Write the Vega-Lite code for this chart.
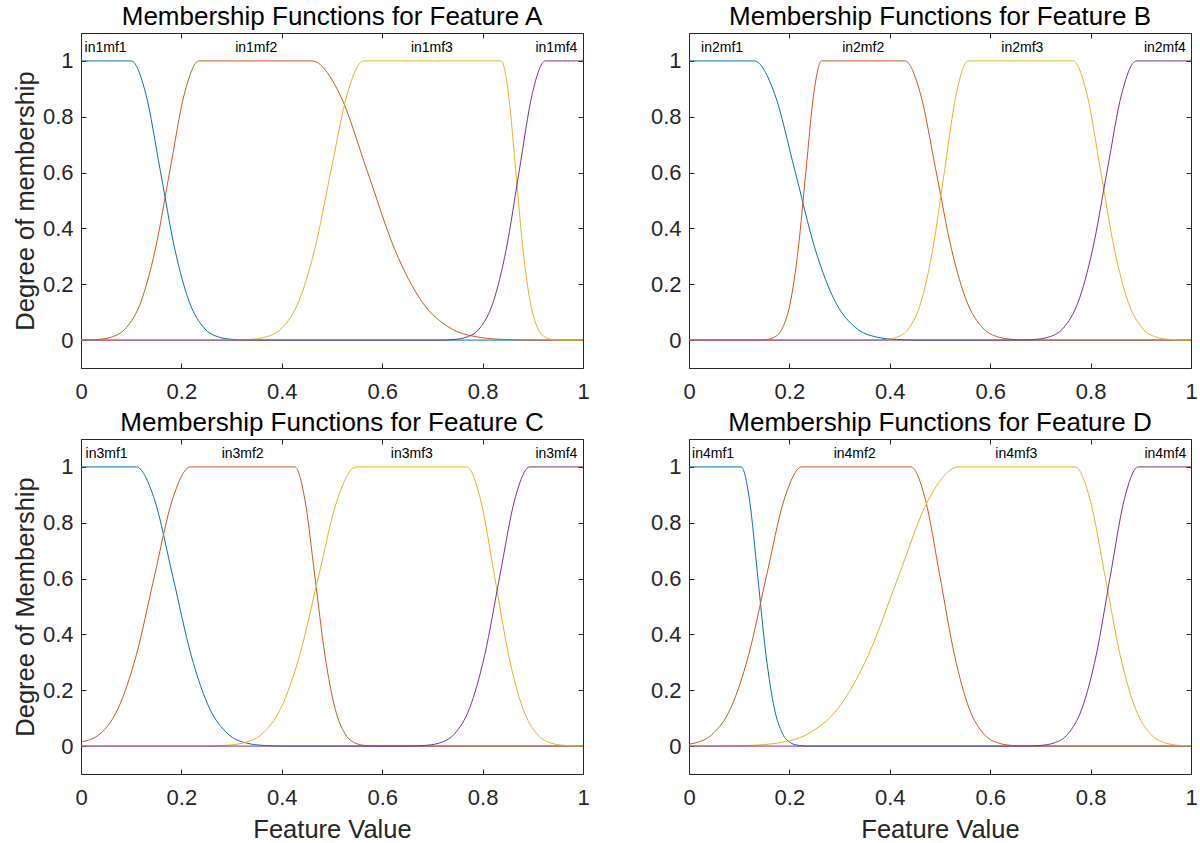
{
"$schema":"https://vega.github.io/schema/vega-lite/v6.json",
"padding":{"left":12,"top":3,"right":5,"bottom":5},
"background":"white",
"columns":2,
"spacing":{"row":71,"column":106},
"bounds":"flush",
"datasets":{
"curves":[
{"p":"A","k":1,"x":0,"y":1},{"p":"A","k":1,"x":0.10,"y":1},{"p":"A","k":1,"x":0.129,"y":0.8825},{"p":"A","k":1,"x":0.158,"y":0.6065},{"p":"A","k":1,"x":0.187,"y":0.3247},{"p":"A","k":1,"x":0.216,"y":0.1353},{"p":"A","k":1,"x":0.245,"y":0.0439},{"p":"A","k":1,"x":0.274,"y":0.0111},{"p":"A","k":1,"x":0.303,"y":0.0022},{"p":"A","k":1,"x":0.332,"y":0},{"p":"A","k":1,"x":1,"y":0},
{"p":"A","k":2,"x":0,"y":0},{"p":"A","k":2,"x":0.032,"y":0.0022},{"p":"A","k":2,"x":0.061,"y":0.0111},{"p":"A","k":2,"x":0.090,"y":0.0439},{"p":"A","k":2,"x":0.119,"y":0.1353},{"p":"A","k":2,"x":0.148,"y":0.3247},{"p":"A","k":2,"x":0.177,"y":0.6065},{"p":"A","k":2,"x":0.206,"y":0.8825},{"p":"A","k":2,"x":0.235,"y":1},{"p":"A","k":2,"x":0.46,"y":1},{"p":"A","k":2,"x":0.515,"y":0.8825},{"p":"A","k":2,"x":0.57,"y":0.6065},{"p":"A","k":2,"x":0.625,"y":0.3247},{"p":"A","k":2,"x":0.68,"y":0.1353},{"p":"A","k":2,"x":0.735,"y":0.0439},{"p":"A","k":2,"x":0.79,"y":0.0111},{"p":"A","k":2,"x":0.845,"y":0.0022},{"p":"A","k":2,"x":0.90,"y":0},{"p":"A","k":2,"x":1,"y":0},
{"p":"A","k":3,"x":0,"y":0},{"p":"A","k":3,"x":0.303,"y":0},{"p":"A","k":3,"x":0.3355,"y":0.0022},{"p":"A","k":3,"x":0.368,"y":0.0111},{"p":"A","k":3,"x":0.4005,"y":0.0439},{"p":"A","k":3,"x":0.433,"y":0.1353},{"p":"A","k":3,"x":0.4655,"y":0.3247},{"p":"A","k":3,"x":0.498,"y":0.6065},{"p":"A","k":3,"x":0.5305,"y":0.8825},{"p":"A","k":3,"x":0.563,"y":1},{"p":"A","k":3,"x":0.837,"y":1},{"p":"A","k":3,"x":0.8515,"y":0.8825},{"p":"A","k":3,"x":0.866,"y":0.6065},{"p":"A","k":3,"x":0.8805,"y":0.3247},{"p":"A","k":3,"x":0.895,"y":0.1353},{"p":"A","k":3,"x":0.9095,"y":0.0439},{"p":"A","k":3,"x":0.924,"y":0.0111},{"p":"A","k":3,"x":0.9385,"y":0.0022},{"p":"A","k":3,"x":0.953,"y":0},{"p":"A","k":3,"x":1,"y":0},
{"p":"A","k":4,"x":0,"y":0},{"p":"A","k":4,"x":0.717,"y":0},{"p":"A","k":4,"x":0.743,"y":0.0022},{"p":"A","k":4,"x":0.769,"y":0.0111},{"p":"A","k":4,"x":0.795,"y":0.0439},{"p":"A","k":4,"x":0.821,"y":0.1353},{"p":"A","k":4,"x":0.847,"y":0.3247},{"p":"A","k":4,"x":0.873,"y":0.6065},{"p":"A","k":4,"x":0.899,"y":0.8825},{"p":"A","k":4,"x":0.925,"y":1},{"p":"A","k":4,"x":1,"y":1},
{"p":"B","k":1,"x":0,"y":1},{"p":"B","k":1,"x":0.13,"y":1},{"p":"B","k":1,"x":0.1705,"y":0.8825},{"p":"B","k":1,"x":0.211,"y":0.6065},{"p":"B","k":1,"x":0.2515,"y":0.3247},{"p":"B","k":1,"x":0.292,"y":0.1353},{"p":"B","k":1,"x":0.3325,"y":0.0439},{"p":"B","k":1,"x":0.373,"y":0.0111},{"p":"B","k":1,"x":0.4135,"y":0.0022},{"p":"B","k":1,"x":0.454,"y":0},{"p":"B","k":1,"x":1,"y":0},
{"p":"B","k":2,"x":0,"y":0},{"p":"B","k":2,"x":0.14,"y":0},{"p":"B","k":2,"x":0.1555,"y":0.0022},{"p":"B","k":2,"x":0.171,"y":0.0111},{"p":"B","k":2,"x":0.1865,"y":0.0439},{"p":"B","k":2,"x":0.202,"y":0.1353},{"p":"B","k":2,"x":0.2175,"y":0.3247},{"p":"B","k":2,"x":0.233,"y":0.6065},{"p":"B","k":2,"x":0.2485,"y":0.8825},{"p":"B","k":2,"x":0.264,"y":1},{"p":"B","k":2,"x":0.43,"y":1},{"p":"B","k":2,"x":0.461,"y":0.8825},{"p":"B","k":2,"x":0.492,"y":0.6065},{"p":"B","k":2,"x":0.523,"y":0.3247},{"p":"B","k":2,"x":0.554,"y":0.1353},{"p":"B","k":2,"x":0.585,"y":0.0439},{"p":"B","k":2,"x":0.616,"y":0.0111},{"p":"B","k":2,"x":0.647,"y":0.0022},{"p":"B","k":2,"x":0.678,"y":0},{"p":"B","k":2,"x":1,"y":0},
{"p":"B","k":3,"x":0,"y":0},{"p":"B","k":3,"x":0.368,"y":0},{"p":"B","k":3,"x":0.3915,"y":0.0022},{"p":"B","k":3,"x":0.415,"y":0.0111},{"p":"B","k":3,"x":0.4385,"y":0.0439},{"p":"B","k":3,"x":0.462,"y":0.1353},{"p":"B","k":3,"x":0.4855,"y":0.3247},{"p":"B","k":3,"x":0.509,"y":0.6065},{"p":"B","k":3,"x":0.5325,"y":0.8825},{"p":"B","k":3,"x":0.556,"y":1},{"p":"B","k":3,"x":0.765,"y":1},{"p":"B","k":3,"x":0.7925,"y":0.8825},{"p":"B","k":3,"x":0.82,"y":0.6065},{"p":"B","k":3,"x":0.8475,"y":0.3247},{"p":"B","k":3,"x":0.875,"y":0.1353},{"p":"B","k":3,"x":0.9025,"y":0.0439},{"p":"B","k":3,"x":0.93,"y":0.0111},{"p":"B","k":3,"x":0.9575,"y":0.0022},{"p":"B","k":3,"x":0.985,"y":0},{"p":"B","k":3,"x":1,"y":0},
{"p":"B","k":4,"x":0,"y":0},{"p":"B","k":4,"x":0.659,"y":0},{"p":"B","k":4,"x":0.688,"y":0.0022},{"p":"B","k":4,"x":0.717,"y":0.0111},{"p":"B","k":4,"x":0.746,"y":0.0439},{"p":"B","k":4,"x":0.775,"y":0.1353},{"p":"B","k":4,"x":0.804,"y":0.3247},{"p":"B","k":4,"x":0.833,"y":0.6065},{"p":"B","k":4,"x":0.862,"y":0.8825},{"p":"B","k":4,"x":0.891,"y":1},{"p":"B","k":4,"x":1,"y":1},
{"p":"C","k":1,"x":0,"y":1},{"p":"C","k":1,"x":0.11,"y":1},{"p":"C","k":1,"x":0.1465,"y":0.8825},{"p":"C","k":1,"x":0.183,"y":0.6065},{"p":"C","k":1,"x":0.2195,"y":0.3247},{"p":"C","k":1,"x":0.256,"y":0.1353},{"p":"C","k":1,"x":0.2925,"y":0.0439},{"p":"C","k":1,"x":0.329,"y":0.0111},{"p":"C","k":1,"x":0.3655,"y":0.0022},{"p":"C","k":1,"x":0.402,"y":0},{"p":"C","k":1,"x":1,"y":0},
{"p":"C","k":2,"x":0,"y":0.015},{"p":"C","k":2,"x":0.038,"y":0.0439},{"p":"C","k":2,"x":0.074,"y":0.1353},{"p":"C","k":2,"x":0.11,"y":0.3247},{"p":"C","k":2,"x":0.146,"y":0.6065},{"p":"C","k":2,"x":0.182,"y":0.8825},{"p":"C","k":2,"x":0.218,"y":1},{"p":"C","k":2,"x":0.426,"y":1},{"p":"C","k":2,"x":0.446,"y":0.8825},{"p":"C","k":2,"x":0.466,"y":0.6065},{"p":"C","k":2,"x":0.486,"y":0.3247},{"p":"C","k":2,"x":0.506,"y":0.1353},{"p":"C","k":2,"x":0.526,"y":0.0439},{"p":"C","k":2,"x":0.546,"y":0.0111},{"p":"C","k":2,"x":0.566,"y":0.0022},{"p":"C","k":2,"x":0.586,"y":0},{"p":"C","k":2,"x":1,"y":0},
{"p":"C","k":3,"x":0,"y":0},{"p":"C","k":3,"x":0.248,"y":0},{"p":"C","k":3,"x":0.2855,"y":0.0022},{"p":"C","k":3,"x":0.323,"y":0.0111},{"p":"C","k":3,"x":0.3605,"y":0.0439},{"p":"C","k":3,"x":0.398,"y":0.1353},{"p":"C","k":3,"x":0.4355,"y":0.3247},{"p":"C","k":3,"x":0.473,"y":0.6065},{"p":"C","k":3,"x":0.5105,"y":0.8825},{"p":"C","k":3,"x":0.548,"y":1},{"p":"C","k":3,"x":0.768,"y":1},{"p":"C","k":3,"x":0.796,"y":0.8825},{"p":"C","k":3,"x":0.824,"y":0.6065},{"p":"C","k":3,"x":0.852,"y":0.3247},{"p":"C","k":3,"x":0.88,"y":0.1353},{"p":"C","k":3,"x":0.908,"y":0.0439},{"p":"C","k":3,"x":0.936,"y":0.0111},{"p":"C","k":3,"x":0.964,"y":0.0022},{"p":"C","k":3,"x":0.992,"y":0},{"p":"C","k":3,"x":1,"y":0},
{"p":"C","k":4,"x":0,"y":0},{"p":"C","k":4,"x":0.654,"y":0},{"p":"C","k":4,"x":0.684,"y":0.0022},{"p":"C","k":4,"x":0.714,"y":0.0111},{"p":"C","k":4,"x":0.744,"y":0.0439},{"p":"C","k":4,"x":0.774,"y":0.1353},{"p":"C","k":4,"x":0.804,"y":0.3247},{"p":"C","k":4,"x":0.834,"y":0.6065},{"p":"C","k":4,"x":0.864,"y":0.8825},{"p":"C","k":4,"x":0.894,"y":1},{"p":"C","k":4,"x":1,"y":1},
{"p":"D","k":1,"x":0,"y":1},{"p":"D","k":1,"x":0.104,"y":1},{"p":"D","k":1,"x":0.1205,"y":0.8825},{"p":"D","k":1,"x":0.137,"y":0.6065},{"p":"D","k":1,"x":0.1535,"y":0.3247},{"p":"D","k":1,"x":0.17,"y":0.1353},{"p":"D","k":1,"x":0.1865,"y":0.0439},{"p":"D","k":1,"x":0.203,"y":0.0111},{"p":"D","k":1,"x":0.2195,"y":0.0022},{"p":"D","k":1,"x":0.236,"y":0},{"p":"D","k":1,"x":1,"y":0},
{"p":"D","k":2,"x":0,"y":0.0066},{"p":"D","k":2,"x":0.012,"y":0.0111},{"p":"D","k":2,"x":0.0475,"y":0.0439},{"p":"D","k":2,"x":0.083,"y":0.1353},{"p":"D","k":2,"x":0.1185,"y":0.3247},{"p":"D","k":2,"x":0.154,"y":0.6065},{"p":"D","k":2,"x":0.1895,"y":0.8825},{"p":"D","k":2,"x":0.225,"y":1},{"p":"D","k":2,"x":0.442,"y":1},{"p":"D","k":2,"x":0.471,"y":0.8825},{"p":"D","k":2,"x":0.5,"y":0.6065},{"p":"D","k":2,"x":0.529,"y":0.3247},{"p":"D","k":2,"x":0.558,"y":0.1353},{"p":"D","k":2,"x":0.587,"y":0.0439},{"p":"D","k":2,"x":0.616,"y":0.0111},{"p":"D","k":2,"x":0.645,"y":0.0022},{"p":"D","k":2,"x":0.674,"y":0},{"p":"D","k":2,"x":1,"y":0},
{"p":"D","k":3,"x":0,"y":0},{"p":"D","k":3,"x":0.057,"y":0.0003},{"p":"D","k":3,"x":0.117,"y":0.0022},{"p":"D","k":3,"x":0.177,"y":0.0111},{"p":"D","k":3,"x":0.237,"y":0.0439},{"p":"D","k":3,"x":0.297,"y":0.1353},{"p":"D","k":3,"x":0.357,"y":0.3247},{"p":"D","k":3,"x":0.417,"y":0.6065},{"p":"D","k":3,"x":0.477,"y":0.8825},{"p":"D","k":3,"x":0.537,"y":1},{"p":"D","k":3,"x":0.769,"y":1},{"p":"D","k":3,"x":0.799,"y":0.8825},{"p":"D","k":3,"x":0.829,"y":0.6065},{"p":"D","k":3,"x":0.859,"y":0.3247},{"p":"D","k":3,"x":0.889,"y":0.1353},{"p":"D","k":3,"x":0.919,"y":0.0439},{"p":"D","k":3,"x":0.949,"y":0.0111},{"p":"D","k":3,"x":0.979,"y":0.0022},{"p":"D","k":3,"x":1,"y":0.0003},
{"p":"D","k":4,"x":0,"y":0},{"p":"D","k":4,"x":0.671,"y":0},{"p":"D","k":4,"x":0.699,"y":0.0022},{"p":"D","k":4,"x":0.727,"y":0.0111},{"p":"D","k":4,"x":0.755,"y":0.0439},{"p":"D","k":4,"x":0.783,"y":0.1353},{"p":"D","k":4,"x":0.811,"y":0.3247},{"p":"D","k":4,"x":0.839,"y":0.6065},{"p":"D","k":4,"x":0.867,"y":0.8825},{"p":"D","k":4,"x":0.895,"y":1},{"p":"D","k":4,"x":1,"y":1}
],
"labels":[
{"p":"A","x":0.049,"t":"in1mf1"},{"p":"A","x":0.349,"t":"in1mf2"},{"p":"A","x":0.699,"t":"in1mf3"},{"p":"A","x":0.947,"t":"in1mf4"},
{"p":"B","x":0.066,"t":"in2mf1"},{"p":"B","x":0.347,"t":"in2mf2"},{"p":"B","x":0.664,"t":"in2mf3"},{"p":"B","x":0.948,"t":"in2mf4"},
{"p":"C","x":0.051,"t":"in3mf1"},{"p":"C","x":0.322,"t":"in3mf2"},{"p":"C","x":0.659,"t":"in3mf3"},{"p":"C","x":0.947,"t":"in3mf4"},
{"p":"D","x":0.048,"t":"in4mf1"},{"p":"D","x":0.330,"t":"in4mf2"},{"p":"D","x":0.652,"t":"in4mf3"},{"p":"D","x":0.949,"t":"in4mf4"}
]
},
"concat":[
{"width":502,"height":335,"title":"Membership Functions for Feature A","resolve":{"axis":{"x":"independent","y":"independent"}},
"layer":[
{"data":{"name":"curves"},"transform":[{"filter":"datum.p=='A' && datum.k<4"}],"mark":{"type":"line","interpolate":"monotone","strokeWidth":1,"clip":true},
"encoding":{"x":{"field":"x","type":"quantitative","scale":{"domain":[0,1]},"axis":{"orient":"bottom","title":null,"values":[0,0.2,0.4,0.6,0.8,1]}},
"y":{"field":"y","type":"quantitative","scale":{"domain":[-0.1,1.1]},"axis":{"orient":"left","title":"Degree of membership","values":[0,0.2,0.4,0.6,0.8,1]}},
"color":{"field":"k","type":"nominal","scale":{"domain":[1,2,3,4],"range":["#0072BD","#D95319","#EDB120","#7E2F8E"]},"legend":null}}},
{"data":{"name":"curves"},"transform":[{"filter":"datum.p=='A' && datum.k==4"}],"mark":{"type":"line","interpolate":"monotone","strokeWidth":1,"clip":true},
"encoding":{"x":{"field":"x","type":"quantitative","axis":null},"y":{"field":"y","type":"quantitative","axis":null},
"color":{"field":"k","type":"nominal","legend":null}}},
{"data":{"name":"labels"},"transform":[{"filter":"datum.p=='A'"}],"mark":{"type":"text","fontSize":14,"baseline":"middle","align":"center","color":"#000000"},
"encoding":{"x":{"field":"x","type":"quantitative","axis":{"orient":"top","labels":false,"title":null,"values":[0,0.2,0.4,0.6,0.8,1]}},
"y":{"datum":1.045,"type":"quantitative","axis":{"orient":"right","labels":false,"title":null,"values":[0,0.2,0.4,0.6,0.8,1]}},
"text":{"field":"t"}}}
]},
{"width":502,"height":335,"title":"Membership Functions for Feature B","resolve":{"axis":{"x":"independent","y":"independent"}},
"layer":[
{"data":{"name":"curves"},"transform":[{"filter":"datum.p=='B' && datum.k<4"}],"mark":{"type":"line","interpolate":"monotone","strokeWidth":1,"clip":true},
"encoding":{"x":{"field":"x","type":"quantitative","scale":{"domain":[0,1]},"axis":{"orient":"bottom","title":null,"values":[0,0.2,0.4,0.6,0.8,1]}},
"y":{"field":"y","type":"quantitative","scale":{"domain":[-0.1,1.1]},"axis":{"orient":"left","title":null,"values":[0,0.2,0.4,0.6,0.8,1]}},
"color":{"field":"k","type":"nominal","scale":{"domain":[1,2,3,4],"range":["#0072BD","#D95319","#EDB120","#7E2F8E"]},"legend":null}}},
{"data":{"name":"curves"},"transform":[{"filter":"datum.p=='B' && datum.k==4"}],"mark":{"type":"line","interpolate":"monotone","strokeWidth":1,"clip":true},
"encoding":{"x":{"field":"x","type":"quantitative","axis":null},"y":{"field":"y","type":"quantitative","axis":null},
"color":{"field":"k","type":"nominal","legend":null}}},
{"data":{"name":"labels"},"transform":[{"filter":"datum.p=='B'"}],"mark":{"type":"text","fontSize":14,"baseline":"middle","align":"center","color":"#000000"},
"encoding":{"x":{"field":"x","type":"quantitative","axis":{"orient":"top","labels":false,"title":null,"values":[0,0.2,0.4,0.6,0.8,1]}},
"y":{"datum":1.045,"type":"quantitative","axis":{"orient":"right","labels":false,"title":null,"values":[0,0.2,0.4,0.6,0.8,1]}},
"text":{"field":"t"}}}
]},
{"width":502,"height":335,"title":"Membership Functions for Feature C","resolve":{"axis":{"x":"independent","y":"independent"}},
"layer":[
{"data":{"name":"curves"},"transform":[{"filter":"datum.p=='C' && datum.k<4"}],"mark":{"type":"line","interpolate":"monotone","strokeWidth":1,"clip":true},
"encoding":{"x":{"field":"x","type":"quantitative","scale":{"domain":[0,1]},"axis":{"orient":"bottom","title":"Feature Value","values":[0,0.2,0.4,0.6,0.8,1]}},
"y":{"field":"y","type":"quantitative","scale":{"domain":[-0.1,1.1]},"axis":{"orient":"left","title":"Degree of Membership","values":[0,0.2,0.4,0.6,0.8,1]}},
"color":{"field":"k","type":"nominal","scale":{"domain":[1,2,3,4],"range":["#0072BD","#D95319","#EDB120","#7E2F8E"]},"legend":null}}},
{"data":{"name":"curves"},"transform":[{"filter":"datum.p=='C' && datum.k==4"}],"mark":{"type":"line","interpolate":"monotone","strokeWidth":1,"clip":true},
"encoding":{"x":{"field":"x","type":"quantitative","axis":null},"y":{"field":"y","type":"quantitative","axis":null},
"color":{"field":"k","type":"nominal","legend":null}}},
{"data":{"name":"labels"},"transform":[{"filter":"datum.p=='C'"}],"mark":{"type":"text","fontSize":14,"baseline":"middle","align":"center","color":"#000000"},
"encoding":{"x":{"field":"x","type":"quantitative","axis":{"orient":"top","labels":false,"title":null,"values":[0,0.2,0.4,0.6,0.8,1]}},
"y":{"datum":1.045,"type":"quantitative","axis":{"orient":"right","labels":false,"title":null,"values":[0,0.2,0.4,0.6,0.8,1]}},
"text":{"field":"t"}}}
]},
{"width":502,"height":335,"title":"Membership Functions for Feature D","resolve":{"axis":{"x":"independent","y":"independent"}},
"layer":[
{"data":{"name":"curves"},"transform":[{"filter":"datum.p=='D' && datum.k<4"}],"mark":{"type":"line","interpolate":"monotone","strokeWidth":1,"clip":true},
"encoding":{"x":{"field":"x","type":"quantitative","scale":{"domain":[0,1]},"axis":{"orient":"bottom","title":"Feature Value","values":[0,0.2,0.4,0.6,0.8,1]}},
"y":{"field":"y","type":"quantitative","scale":{"domain":[-0.1,1.1]},"axis":{"orient":"left","title":null,"values":[0,0.2,0.4,0.6,0.8,1]}},
"color":{"field":"k","type":"nominal","scale":{"domain":[1,2,3,4],"range":["#0072BD","#D95319","#EDB120","#7E2F8E"]},"legend":null}}},
{"data":{"name":"curves"},"transform":[{"filter":"datum.p=='D' && datum.k==4"}],"mark":{"type":"line","interpolate":"monotone","strokeWidth":1,"clip":true},
"encoding":{"x":{"field":"x","type":"quantitative","axis":null},"y":{"field":"y","type":"quantitative","axis":null},
"color":{"field":"k","type":"nominal","legend":null}}},
{"data":{"name":"labels"},"transform":[{"filter":"datum.p=='D'"}],"mark":{"type":"text","fontSize":14,"baseline":"middle","align":"center","color":"#000000"},
"encoding":{"x":{"field":"x","type":"quantitative","axis":{"orient":"top","labels":false,"title":null,"values":[0,0.2,0.4,0.6,0.8,1]}},
"y":{"datum":1.045,"type":"quantitative","axis":{"orient":"right","labels":false,"title":null,"values":[0,0.2,0.4,0.6,0.8,1]}},
"text":{"field":"t"}}}
]}
],
"config":{
"font":"Liberation Sans",
"view":{"stroke":"#262626","strokeWidth":1},
"axis":{"domain":false,"grid":false,"tickSize":-5,"tickColor":"#262626","labelFontSize":22,"labelColor":"#262626","labelFont":"Liberation Sans","labelFlush":false,"format":"~g","titleFontSize":25.5,"titleFontWeight":"normal","titleColor":"#262626","titleFont":"Liberation Sans"},
"axisBottom":{"labelPadding":18,"titlePadding":9},
"axisLeft":{"labelPadding":13,"titlePadding":4},
"title":{"fontSize":26,"fontWeight":"normal","color":"#000000","offset":3,"font":"Liberation Sans"}
}
}
